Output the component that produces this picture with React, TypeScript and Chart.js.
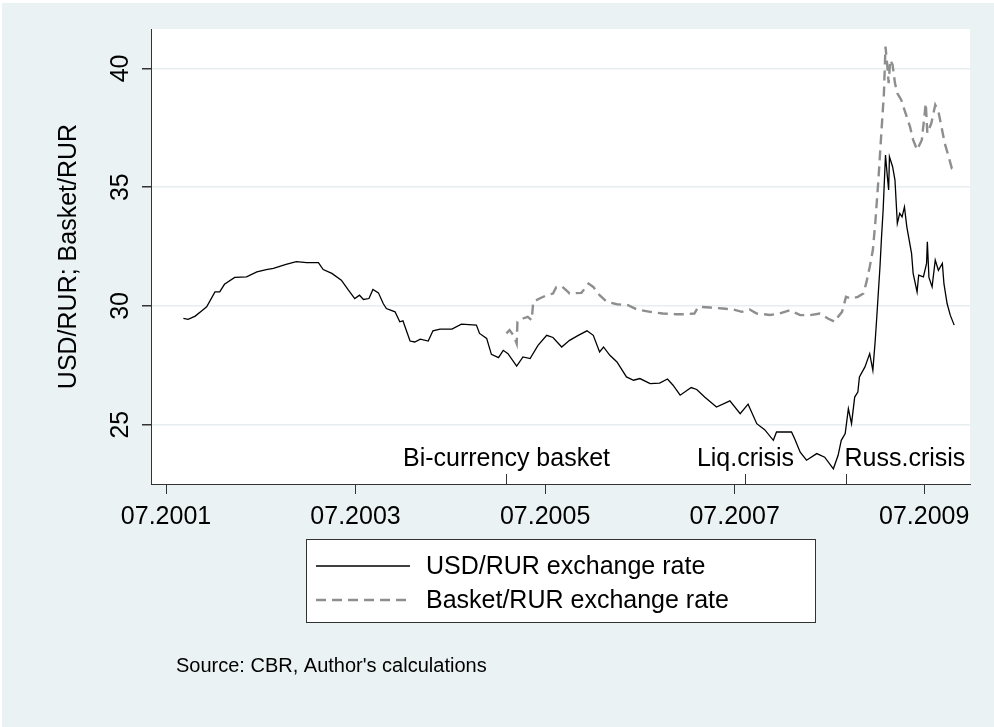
import React, { useEffect, useRef } from "react";
import { Chart, registerables } from "chart.js";

Chart.register(...registerables);

// Time is measured in months since January 2001 (6 = 07.2001)
const xTickMonths = [6, 30, 54, 78, 102];
const xTickLabels = ["07.2001", "07.2003", "07.2005", "07.2007", "07.2009"];
const yTicks = [25, 30, 35, 40];

const usdT = [
  8.2, 8.8, 9.7, 10.5, 11.15, 12.2, 12.8, 13.4, 14.7, 16.2, 17.5, 18.7, 19.6, 21.2, 22.5, 23.8,
  25.3, 25.9, 27.0, 28.2, 29.1, 29.9, 30.5, 31.0, 31.7, 32.2, 32.9, 33.5, 33.9, 35.0, 35.6, 36.0,
  36.5, 36.9, 37.5, 38.2, 39.2, 39.8, 40.7, 42.2, 43.4, 45.3, 45.7, 46.6, 47.2, 48.1, 48.7, 49.3,
  50.4, 51.2, 52.1, 53.1, 54.2, 55.0, 56.1, 57.1, 58.2, 59.3, 60.1, 60.9, 61.4, 62.2, 63.1, 64.3,
  65.2, 66.0, 67.3, 68.5, 69.5, 70.2, 71.1, 72.5, 73.2, 74.2, 75.7, 77.4, 78.7, 79.7, 80.8, 81.8,
  82.9, 83.3, 84.4, 85.2, 85.6, 86.3, 87.1, 88.4, 89.4, 90.5, 91.1, 91.5, 92.0, 92.4, 92.8, 93.2,
  93.6, 93.8, 94.5, 95.1, 95.5, 95.8, 96.0, 96.4, 96.6, 96.8, 97.1, 97.3, 97.5, 97.6, 98.0, 98.3,
  98.6, 98.9, 99.2, 99.5, 99.8, 100.4, 100.6, 101.1, 101.3, 101.9, 102.3, 102.4, 102.6, 103.0,
  103.4, 103.8, 104.3, 104.5, 104.9, 105.3, 105.8,
];
const usdRate = [
  29.47, 29.43, 29.57, 29.79, 29.96, 30.59, 30.59, 30.91, 31.2, 31.22, 31.43, 31.53, 31.58, 31.75,
  31.86, 31.82, 31.82, 31.53, 31.37, 31.08, 30.66, 30.31, 30.45, 30.27, 30.31, 30.69, 30.55, 30.1,
  29.89, 29.75, 29.33, 29.37, 28.9, 28.52, 28.48, 28.6, 28.52, 28.95, 29.02, 29.02, 29.23, 29.19,
  28.84, 28.63, 27.96, 27.82, 28.13, 27.99, 27.46, 27.85, 27.78, 28.34, 28.76, 28.67, 28.27, 28.55,
  28.76, 28.95, 28.76, 28.06, 28.27, 27.92, 27.64, 27.01, 26.87, 26.94, 26.73, 26.75, 26.92, 26.66,
  26.24, 26.56, 26.48, 26.16, 25.74, 26.0, 25.46, 25.86, 25.04, 24.79, 24.34, 24.69, 24.69, 24.69,
  24.41, 23.84, 23.5, 23.78, 23.63, 23.14, 23.71, 24.34, 24.62, 25.67, 25.04, 26.16, 26.37, 27.01,
  27.43, 27.99, 27.29, 28.55, 29.54, 31.64, 32.91, 34.03, 36.35, 35.58, 34.88, 36.28, 35.86, 35.3,
  33.47, 33.9, 33.75, 34.17, 33.33, 32.21, 31.37, 30.59, 31.29, 31.22, 31.79, 32.7, 31.2, 30.8,
  31.93, 31.5, 31.79, 30.94, 30.1, 29.61, 29.19,
];

const basketT = [
  49.1, 49.5, 50.0, 50.4, 50.5, 51.2, 51.8, 52.3, 52.5, 53.3, 54.2, 55.0, 55.4, 56.1, 56.9, 57.1,
  58.6, 59.5, 60.1, 60.9, 61.8, 63.1, 64.5, 65.6, 67.3, 68.9, 70.6, 71.9, 72.9, 73.4, 74.9, 76.5,
  77.8, 78.9, 79.9, 80.8, 82.5, 83.7, 85.0, 86.3, 87.5, 88.8, 89.8, 90.7, 91.1, 91.6, 92.1, 92.8,
  93.6, 94.3, 94.7, 95.1, 95.5, 95.8, 96.2, 96.6, 96.9, 97.1, 97.3, 97.5, 97.7, 98.0, 98.3, 98.6,
  99.1, 99.5, 100.2, 100.6, 101.1, 101.7, 102.2, 102.4, 102.9, 103.4, 103.8, 104.1, 104.6, 105.1,
  105.5, 105.8,
];
const basketRate = [
  28.84, 28.98, 28.76, 28.41, 29.33, 29.47, 29.54, 29.4, 30.17, 30.31, 30.45, 30.52, 30.78, 30.83,
  30.59, 30.52, 30.55, 30.94, 30.8, 30.45, 30.17, 30.07, 30.03, 29.85, 29.75, 29.68, 29.65, 29.65,
  29.68, 29.96, 29.93, 29.89, 29.85, 29.75, 29.85, 29.68, 29.62, 29.68, 29.82, 29.61, 29.61, 29.68,
  29.47, 29.33, 29.54, 29.75, 30.38, 30.31, 30.38, 30.52, 31.01, 31.64, 32.35, 33.47, 35.3, 37.41,
  38.95, 40.92, 40.22, 39.38, 40.36, 40.15, 39.38, 38.95, 38.67, 38.25, 37.55, 36.99, 36.57, 36.99,
  38.53, 37.27, 37.69, 38.46, 38.18, 37.69, 36.85, 36.28, 35.79, 35.72,
];

const eventT = [49.1, 79.3, 92.1];
const eventLabels = ["Bi-currency basket", "Liq.crisis", "Russ.crisis"];
const eventAlign = ["center", "center", "left"];

const seriesLabels = ["USD/RUR exchange rate", "Basket/RUR exchange rate"];
const yTitle = "USD/RUR; Basket/RUR";
const sourceNote = "Source: CBR, Author's calculations";

const FONT = '"Liberation Sans", Arial, Helvetica, sans-serif';
const BG = "#EAF2F3";

const decorPlugin = {
  id: "decor",
  beforeDraw(chart: any) {
    const { ctx, chartArea } = chart;
    ctx.save();
    ctx.fillStyle = "#ffffff";
    ctx.fillRect(0, 0, chart.width, chart.height);
    ctx.fillStyle = BG;
    ctx.fillRect(2, 3, chart.width - 2, chart.height - 3);
    ctx.fillStyle = "#ffffff";
    ctx.fillRect(chartArea.left, chartArea.top, chartArea.right - chartArea.left, chartArea.bottom - chartArea.top);
    ctx.restore();
  },
  afterDraw(chart: any) {
    const { ctx, chartArea } = chart;
    const xs = chart.scales.x;
    ctx.save();
    // event markers
    ctx.strokeStyle = "#333";
    ctx.lineWidth = 1;
    ctx.fillStyle = "#000";
    ctx.font = `25px ${FONT}`;
    ctx.textBaseline = "alphabetic";
    eventT.forEach((t, i) => {
      const px = Math.round(xs.getPixelForValue(t)) + 0.5;
      ctx.beginPath();
      ctx.moveTo(px, chartArea.bottom);
      ctx.lineTo(px, chartArea.bottom - 10);
      ctx.stroke();
      ctx.textAlign = eventAlign[i] as CanvasTextAlign;
      ctx.fillText(eventLabels[i], eventAlign[i] === "left" ? px - 2 : px, chartArea.bottom - 18);
    });

    // legend
    const lx = 306, ly = 539, lw = 509, lh = 83;
    ctx.fillStyle = "#fff";
    ctx.fillRect(lx, ly, lw, lh);
    ctx.strokeStyle = "#333";
    ctx.lineWidth = 1;
    ctx.strokeRect(lx + 0.5, ly + 0.5, lw, lh);
    const rows = [566, 600];
    chart.data.datasets.forEach((ds: any, i: number) => {
      ctx.save();
      ctx.strokeStyle = ds.borderColor;
      ctx.lineWidth = ds.borderWidth;
      ctx.setLineDash(ds.borderDash || []);
      ctx.beginPath();
      ctx.moveTo(316, rows[i]);
      ctx.lineTo(410, rows[i]);
      ctx.stroke();
      ctx.restore();
      ctx.fillStyle = "#000";
      ctx.font = `25px ${FONT}`;
      ctx.textAlign = "left";
      ctx.textBaseline = "middle";
      ctx.fillText(ds.label, 426, rows[i] + 1);
    });

    // source note
    ctx.fillStyle = "#000";
    ctx.font = `20px ${FONT}`;
    ctx.textAlign = "left";
    ctx.textBaseline = "middle";
    ctx.fillText(sourceNote, 176, 666);
    ctx.restore();
  },
};

export default function App() {
  const canvasRef = useRef<HTMLCanvasElement | null>(null);

  useEffect(() => {
    if (!canvasRef.current) return;
    const chart = new Chart(canvasRef.current, {
      type: "line",
      data: {
        datasets: [
          {
            label: seriesLabels[0],
            data: usdT.map((t, i) => ({ x: t, y: usdRate[i] })),
            borderColor: "#000000",
            borderWidth: 1.3,
            pointRadius: 0,
            tension: 0,
            fill: false,
          },
          {
            label: seriesLabels[1],
            data: basketT.map((t, i) => ({ x: t, y: basketRate[i] })),
            borderColor: "#8E8E8E",
            borderWidth: 2.4,
            borderDash: [10, 6],
            pointRadius: 0,
            tension: 0,
            fill: false,
          },
        ],
      },
      options: {
        animation: false,
        responsive: false,
        devicePixelRatio: 1,
        layout: { padding: { left: 0, top: 29, right: 24, bottom: 183 } },
        plugins: {
          legend: { display: false },
          tooltip: { enabled: false },
        },
        scales: {
          x: {
            type: "linear",
            min: 4.1,
            max: 107.8,
            afterBuildTicks: (s: any) => {
              s.ticks = xTickMonths.map((v) => ({ value: v }));
            },
            afterFit: (s: any) => {
              s.height = 60;
            },
            ticks: {
              autoSkip: false,
              maxRotation: 0,
              minRotation: 0,
              padding: 8,
              color: "#000",
              font: { family: FONT, size: 25 },
              callback: (v: any) => {
                const i = xTickMonths.indexOf(Number(v));
                return i >= 0 ? xTickLabels[i] : "";
              },
            },
            grid: { drawOnChartArea: false, drawTicks: true, tickLength: 10, tickColor: "#333", color: "#333" },
            border: { display: true, color: "#333", width: 1 },
          },
          y: {
            type: "linear",
            min: 22.5,
            max: 41.66,
            afterBuildTicks: (s: any) => {
              s.ticks = yTicks.map((v) => ({ value: v }));
            },
            afterFit: (s: any) => {
              s.width = 151;
            },
            ticks: {
              minRotation: 90,
              maxRotation: 90,
              crossAlign: "center",
              padding: 7,
              color: "#000",
              font: { family: FONT, size: 25 },
              callback: (v: any) => String(v),
            },
            grid: { color: "#E6EEF0", lineWidth: 1.5, drawTicks: true, tickLength: 9, tickColor: "#333" },
            border: { display: true, color: "#333", width: 1 },
            title: {
              display: true,
              text: yTitle,
              color: "#000",
              font: { family: FONT, size: 25 },
              padding: { top: 54, bottom: 0 },
            },
          },
        },
      },
      plugins: [decorPlugin],
    } as any);
    return () => chart.destroy();
  }, []);

  return (
    <div style={{ position: "absolute", left: 0, top: 0, width: 994, height: 727 }}>
      <canvas ref={canvasRef} width={994} height={727} style={{ width: 994, height: 727, display: "block" }} />
    </div>
  );
}
